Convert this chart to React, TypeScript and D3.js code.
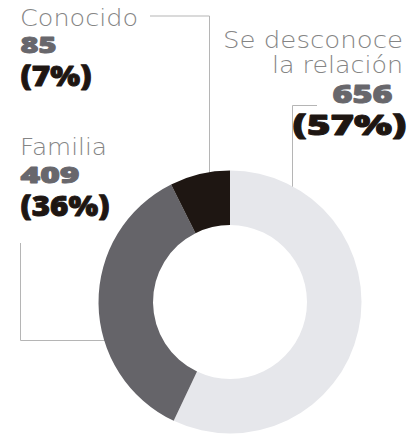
import React from "react";
import * as d3 from "d3";

const categories = ["Se desconoce la relación", "Familia", "Conocido"];
const values = [656, 409, 85];
const percents = ["57%", "36%", "7%"];
const colors = ["#e6e7eb", "#656469", "#1e1612"];

const W = 420, H = 434;
const cx = 230, cy = 302, R = 131.5, r = 77;

export default function App() {
  const pie = d3.pie<number>().sort(null).value((d) => d);
  const arcs = pie(values);
  const arc = d3.arc<d3.PieArcDatum<number>>().innerRadius(r).outerRadius(R);
  const lineColor = "#b5b5b5";
  const labelStyle = { fontFamily: "'DejaVu Sans', sans-serif", fontWeight: 100, fill: "#858585" } as const;
  const numStyle = { fontFamily: "'Noto Sans', sans-serif", fontWeight: 900, strokeWidth: 0.9, strokeLinejoin: "round" } as const;
  const gray = "#68676c";
  const dark = "#1e1612";
  const adj = "spacingAndGlyphs";

  return (
    <svg width={W} height={H} style={{ position: "absolute", left: 0, top: 0, background: "#fff" }}>
      {/* connectors */}
      <polyline points="150,16 209.5,16 209.5,185" fill="none" stroke={lineColor} strokeWidth={1} />
      <polyline points="317,105.5 292.5,105.5 292.5,195" fill="none" stroke={lineColor} strokeWidth={1} />
      <polyline points="20.5,243 20.5,340.5 115,340.5" fill="none" stroke={lineColor} strokeWidth={1} />

      <g transform={`translate(${cx},${cy})`}>
        {arcs.map((a, i) => (
          <path key={categories[i]} d={arc(a) || ""} fill={colors[i]} />
        ))}
      </g>

      {/* Conocido */}
      <text x={20} y={26} fontSize={23} textLength={118} lengthAdjust={adj} style={labelStyle}>{categories[2]}</text>
      <text x={20.5} y={53} fontSize={22.5} textLength={36} lengthAdjust={adj} style={{ ...numStyle, fill: gray, stroke: gray }}>{values[2]}</text>
      <text x={20.5} y={85.5} fontSize={28} textLength={71} lengthAdjust={adj} style={{ ...numStyle, fill: dark, stroke: dark }}>({percents[2]})</text>

      {/* Se desconoce */}
      <text x={223} y={48} fontSize={23} textLength={180} lengthAdjust={adj} style={labelStyle}>Se desconoce</text>
      <text x={272} y={73} fontSize={23} textLength={131} lengthAdjust={adj} style={labelStyle}>la relación</text>
      <text x={332.5} y={103} fontSize={25} textLength={60} lengthAdjust={adj} style={{ ...numStyle, fill: gray, stroke: gray }}>{values[0]}</text>
      <text x={292.5} y={135} fontSize={28} textLength={114} lengthAdjust={adj} style={{ ...numStyle, fill: dark, stroke: dark }}>({percents[0]})</text>

      {/* Familia */}
      <text x={20} y={155} fontSize={23} textLength={87} lengthAdjust={adj} style={labelStyle}>{categories[1]}</text>
      <text x={20.5} y={183} fontSize={22.5} textLength={59} lengthAdjust={adj} style={{ ...numStyle, fill: gray, stroke: gray }}>{values[1]}</text>
      <text x={20.5} y={215.5} fontSize={28} textLength={89} lengthAdjust={adj} style={{ ...numStyle, fill: dark, stroke: dark }}>({percents[1]})</text>
    </svg>
  );
}
